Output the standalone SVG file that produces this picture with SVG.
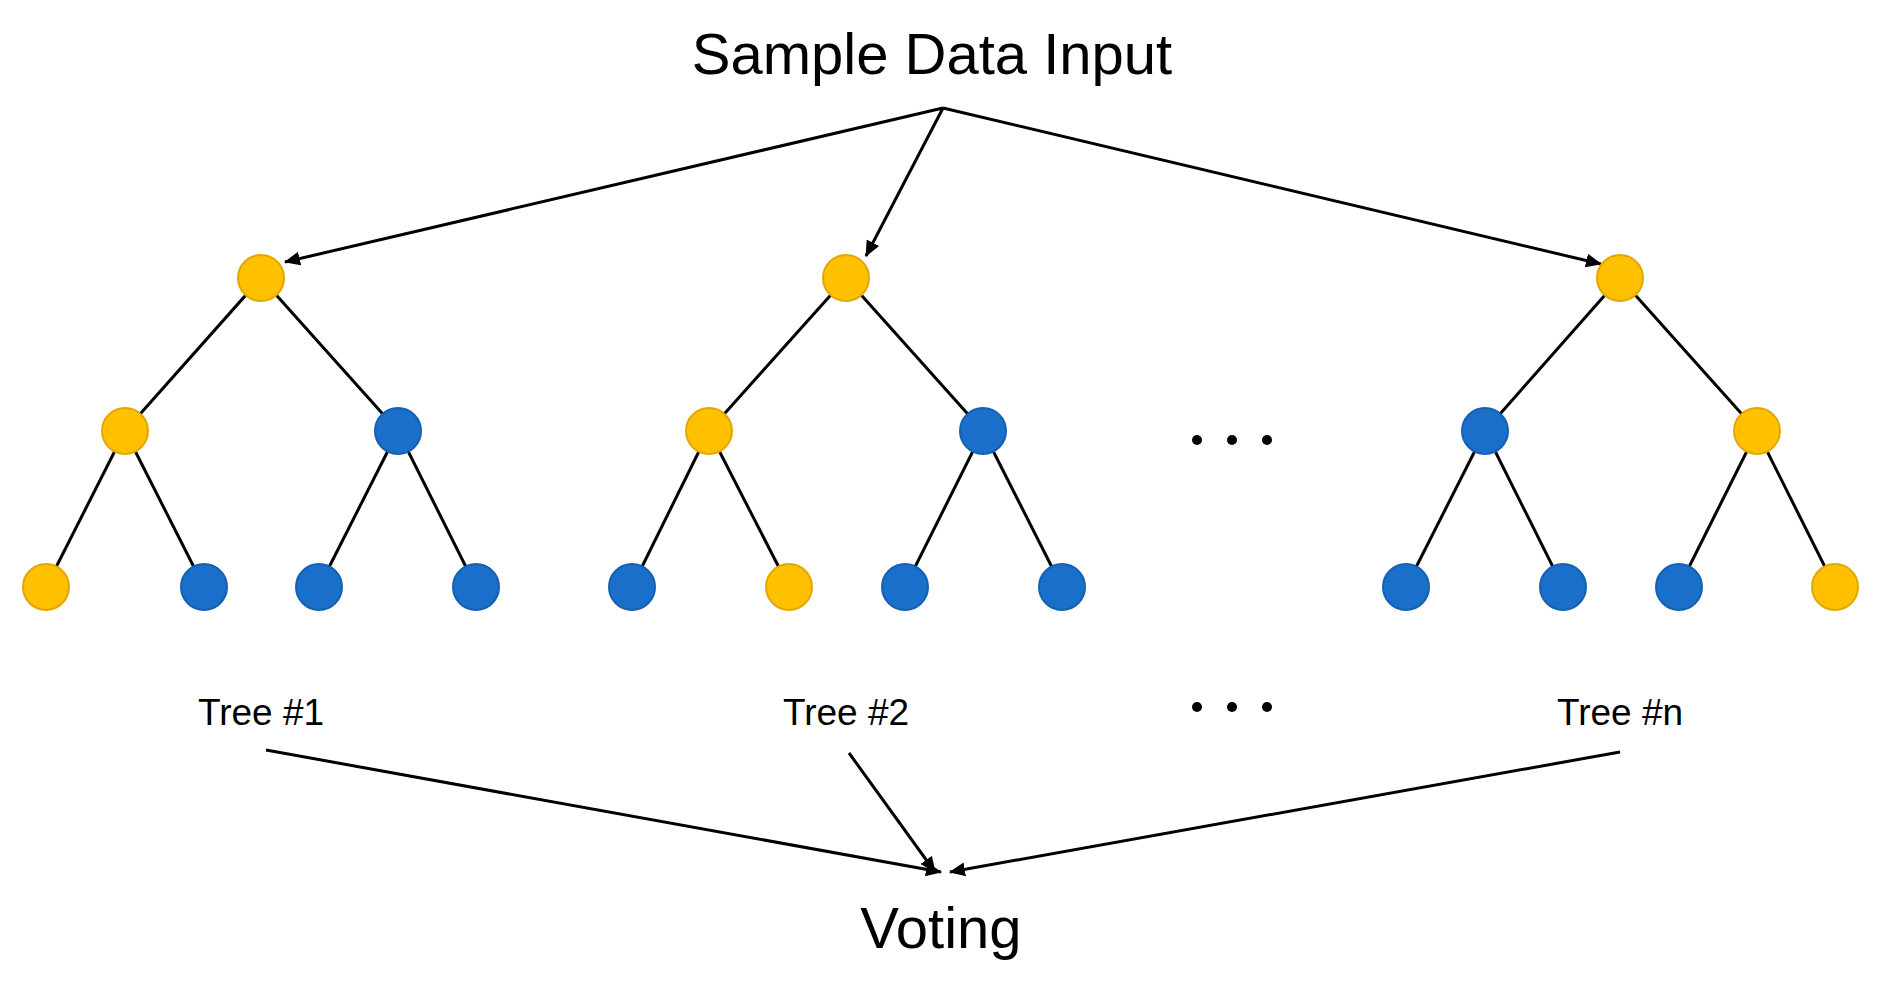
<svg xmlns="http://www.w3.org/2000/svg" width="1879" height="986" viewBox="0 0 1879 986">
<style>
.y{fill:#FFC000;stroke:#E0A800;stroke-width:2}
.b{fill:#1A6FCB;stroke:#1560B0;stroke-width:2}
.e{stroke:#000;stroke-width:3;fill:none}
.a{stroke:#000;stroke-width:3;fill:none;marker-end:url(#ar)}
text{font-family:"Liberation Sans",Arial,sans-serif;fill:#000;text-anchor:middle}
</style>
<defs><marker id="ar" markerWidth="10" markerHeight="10" refX="9" refY="5" orient="auto" markerUnits="userSpaceOnUse" viewBox="0 0 10 10"><path d="M0,0L10,5L0,10z" fill="#000"/></marker>
<marker id="ar2" markerWidth="16" markerHeight="16" refX="15" refY="8" orient="auto" markerUnits="userSpaceOnUse" viewBox="0 0 16 16"><path d="M0,1L16,8L0,15z" fill="#000"/></marker></defs>
<rect width="1879" height="986" fill="#fff"/>
<g id="connectors">
<line class="e" x1="261" y1="278" x2="125" y2="431"/><line class="e" x1="261" y1="278" x2="398" y2="431"/>
<line class="e" x1="125" y1="431" x2="46" y2="587"/><line class="e" x1="125" y1="431" x2="204" y2="587"/>
<line class="e" x1="398" y1="431" x2="319" y2="587"/><line class="e" x1="398" y1="431" x2="476" y2="587"/>
<line class="e" x1="846" y1="278" x2="709" y2="431"/><line class="e" x1="846" y1="278" x2="983" y2="431"/>
<line class="e" x1="709" y1="431" x2="632" y2="587"/><line class="e" x1="709" y1="431" x2="789" y2="587"/>
<line class="e" x1="983" y1="431" x2="905" y2="587"/><line class="e" x1="983" y1="431" x2="1062" y2="587"/>
<line class="e" x1="1620" y1="278" x2="1485" y2="431"/><line class="e" x1="1620" y1="278" x2="1757" y2="431"/>
<line class="e" x1="1485" y1="431" x2="1406" y2="587"/><line class="e" x1="1485" y1="431" x2="1563" y2="587"/>
<line class="e" x1="1757" y1="431" x2="1679" y2="587"/><line class="e" x1="1757" y1="431" x2="1835" y2="587"/>
<path d="M943 108L285 262" style="stroke:#000;stroke-width:3;marker-end:url(#ar2)"/>
<path d="M943 108L866 256" style="stroke:#000;stroke-width:3;marker-end:url(#ar2)"/>
<path d="M943 108L1601 264" style="stroke:#000;stroke-width:3;marker-end:url(#ar2)"/>
<path d="M266 750L941 872" style="stroke:#000;stroke-width:3;marker-end:url(#ar2)"/>
<path d="M849 753L935 872" style="stroke:#000;stroke-width:3;marker-end:url(#ar2)"/>
<path d="M1620 752L950 872" style="stroke:#000;stroke-width:3;marker-end:url(#ar2)"/>
</g>
<g id="tree1">
<circle class="y" cx="261" cy="278" r="23"/><circle class="y" cx="125" cy="431" r="23"/><circle class="b" cx="398" cy="431" r="23"/>
<circle class="y" cx="46" cy="587" r="23"/><circle class="b" cx="204" cy="587" r="23"/><circle class="b" cx="319" cy="587" r="23"/><circle class="b" cx="476" cy="587" r="23"/>
</g>
<g id="tree2">
<circle class="y" cx="846" cy="278" r="23"/><circle class="y" cx="709" cy="431" r="23"/><circle class="b" cx="983" cy="431" r="23"/>
<circle class="b" cx="632" cy="587" r="23"/><circle class="y" cx="789" cy="587" r="23"/><circle class="b" cx="905" cy="587" r="23"/><circle class="b" cx="1062" cy="587" r="23"/>
</g>
<g id="treen">
<circle class="y" cx="1620" cy="278" r="23"/><circle class="b" cx="1485" cy="431" r="23"/><circle class="y" cx="1757" cy="431" r="23"/>
<circle class="b" cx="1406" cy="587" r="23"/><circle class="b" cx="1563" cy="587" r="23"/><circle class="b" cx="1679" cy="587" r="23"/><circle class="y" cx="1835" cy="587" r="23"/>
</g>
<g id="dots">
<circle cx="1197" cy="440" r="5"/><circle cx="1232" cy="440" r="5"/><circle cx="1267" cy="440" r="5"/>
<circle cx="1197" cy="707" r="5"/><circle cx="1232" cy="707" r="5"/><circle cx="1267" cy="707" r="5"/>
</g>
<g id="labels">
<text x="932" y="74" font-size="58">Sample Data Input</text>
<text x="261" y="725" font-size="37">Tree #1</text>
<text x="846" y="725" font-size="37">Tree #2</text>
<text x="1620" y="725" font-size="37">Tree #n</text>
<text x="941" y="948" font-size="58">Voting</text>
</g>
</svg>
